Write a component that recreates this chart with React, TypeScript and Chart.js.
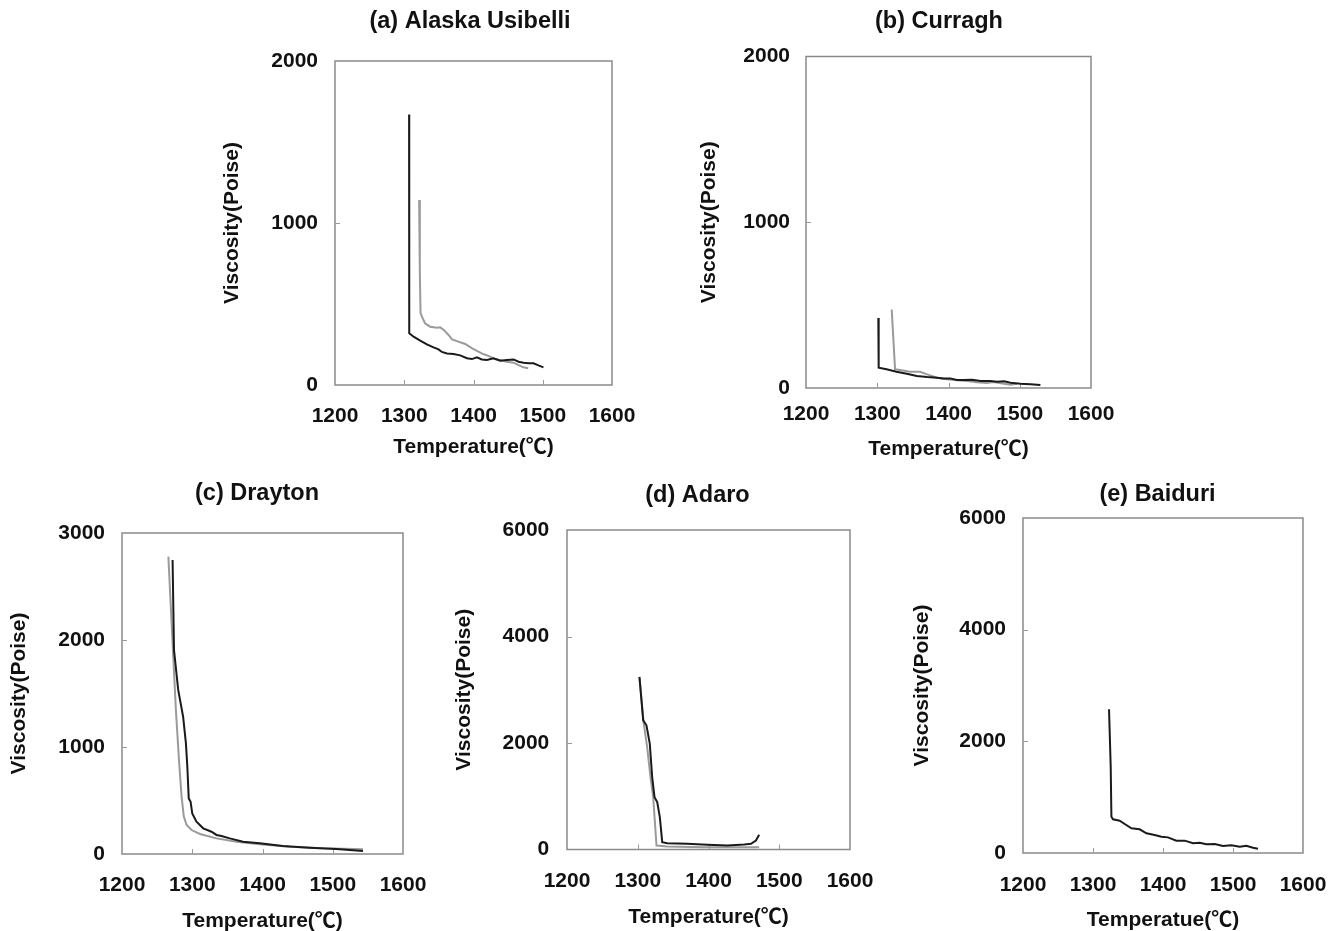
import React, { useEffect, useRef } from "react";
import { Chart, registerables } from "chart.js";

Chart.register(...registerables);

const FONT = "'Liberation Sans', Arial, 'Noto Sans CJK KR', sans-serif";

// ---- tick labels ----
const X_TICKS = [1200, 1300, 1400, 1500, 1600];
const Y_TICKS_2000 = [0, 1000, 2000];
const Y_TICKS_3000 = [0, 1000, 2000, 3000];
const Y_TICKS_6000 = [0, 2000, 4000, 6000];

// ---- (a) Alaska Usibelli ----
const A_BLACK_T = [1307, 1307.2, 1313.5, 1323, 1332.7, 1342.3, 1349.5, 1354.4, 1361.6, 1371.2, 1380.8, 1390.5, 1397.7, 1404.9, 1412.1, 1419.3, 1428.9, 1438.5, 1448.2, 1457.8, 1465, 1472.2, 1479.4, 1486.6, 1493.8, 1501];
const A_BLACK_V = [1670, 319, 298, 274, 251, 232, 220, 204, 195, 191, 183, 165, 160, 171, 158, 154, 165, 150, 154, 158, 144, 138, 134, 134, 121, 109];
const A_GRAY_T = [1321.5, 1322.5, 1323.5, 1325.5, 1330, 1337.5, 1347, 1352, 1357, 1364, 1369, 1378, 1388, 1398, 1405, 1414, 1424, 1431, 1438, 1448, 1458, 1465, 1472, 1479];
const A_GRAY_V = [1142, 700, 445, 422, 381, 360, 354, 356, 340, 309, 282, 268, 253, 226, 210, 191, 175, 160, 154, 144, 138, 123, 109, 103];

// ---- (b) Curragh ----
const B_BLACK_T = [1301.5, 1302, 1313, 1327, 1341.5, 1355.5, 1370, 1384, 1393, 1402.5, 1412, 1421, 1433, 1445, 1459, 1468, 1478, 1487, 1501, 1515, 1529];
const B_BLACK_V = [423, 122, 113, 98, 86, 72, 66, 62, 58, 58, 48, 48, 50, 42, 42, 38, 40, 32, 26, 22, 18];
const B_GRAY_T = [1320.3, 1325, 1332, 1346, 1360, 1370, 1384, 1398, 1412, 1426, 1440, 1454, 1463, 1478, 1487, 1496];
const B_GRAY_V = [474, 113, 108, 98, 98, 82, 62, 52, 46, 42, 34, 30, 36, 26, 20, 26];

// ---- (c) Drayton ----
const C_BLACK_T = [1272, 1274, 1280, 1287, 1291, 1293, 1295, 1297.6, 1300, 1306, 1315.6, 1327.4, 1334.5, 1341.6, 1353.4, 1372.3, 1396, 1429, 1467, 1505, 1543];
const C_BLACK_V = [2748, 1907, 1533, 1283, 1034, 816, 520, 489, 380, 302, 240, 208, 178, 168, 146, 115, 100, 75, 59, 47, 28];
const C_GRAY_T = [1266, 1269, 1273, 1276.7, 1281.4, 1284.8, 1288, 1292, 1299, 1311, 1334.5, 1363, 1396, 1438.6, 1486, 1543];
const C_GRAY_V = [2779, 2374, 1844, 1346, 848, 536, 349, 271, 224, 187, 146, 115, 90, 68, 53, 44];

// ---- (d) Adaro ----
const D_BLACK_T = [1302.4, 1307.7, 1312.3, 1317, 1320.4, 1323.7, 1327.5, 1331.2, 1334.6, 1341.7, 1370, 1398.4, 1426.8, 1450.4, 1460, 1467, 1471.6];
const D_BLACK_V = [3241, 2426, 2332, 1987, 1360, 984, 890, 608, 138, 119, 107, 88, 75, 94, 107, 169, 276];
const D_GRAY_T = [1302.4, 1308.5, 1313.3, 1318, 1321.8, 1326.5, 1341.7, 1393.6, 1431.5, 1471.6];
const D_GRAY_V = [3229, 2364, 1924, 1360, 984, 75, 56, 44, 44, 44];

// ---- (e) Baiduri ----
const E_BLACK_T = [1322.9, 1325.3, 1326.3, 1328.6, 1338.1, 1345.3, 1354.9, 1366.7, 1376.3, 1388.1, 1397.7, 1407.1, 1419.1, 1431, 1442.9, 1452.4, 1462, 1473.9, 1485.7, 1497.7, 1509.6, 1519.1, 1528.6, 1535.7];
const E_BLACK_V = [2574, 1546, 650, 603, 579, 519, 442, 424, 352, 322, 292, 280, 221, 221, 174, 185, 156, 161, 125, 138, 113, 131, 95, 77];

const BLACK = "#1a1a1a";
const GRAY = "#9a9a9a";

const TITLE_SIZE = 23.5;
const TICK_SIZE = 21;
const AXIS_TITLE_SIZE = 21;
const LH = 1.2;

type Geo = {
  l: number; t: number; r: number; b: number;
  titleX: number; titleY: number; yTitleX: number; xTitleY: number;
  yTickRight: number; xTickY: number;
};

type Series = { t: number[]; v: number[]; color: string; width: number; label: string };

type PanelCfg = {
  title: string;
  xTitle: string;
  yMax: number;
  yTicks: number[];
  series: Series[];
  geo: Geo;
};

const PANELS: PanelCfg[] = [
  {
    title: "(a) Alaska Usibelli", xTitle: "Temperature(℃)", yMax: 2000, yTicks: Y_TICKS_2000,
    series: [
      { t: A_BLACK_T, v: A_BLACK_V, color: BLACK, width: 2, label: "black" },
      { t: A_GRAY_T, v: A_GRAY_V, color: GRAY, width: 2, label: "gray" },
    ],
    geo: { l: 335, t: 61, r: 612, b: 385, titleX: 470, titleY: 22, yTitleX: 232, xTitleY: 447, yTickRight: 318, xTickY: 416 },
  },
  {
    title: "(b) Curragh", xTitle: "Temperature(℃)", yMax: 2000, yTicks: Y_TICKS_2000,
    series: [
      { t: B_BLACK_T, v: B_BLACK_V, color: BLACK, width: 2, label: "black" },
      { t: B_GRAY_T, v: B_GRAY_V, color: GRAY, width: 2, label: "gray" },
    ],
    geo: { l: 806, t: 56, r: 1091, b: 387, titleX: 939, titleY: 21.5, yTitleX: 709, xTitleY: 448, yTickRight: 790, xTickY: 413 },
  },
  {
    title: "(c) Drayton", xTitle: "Temperature(℃)", yMax: 3000, yTicks: Y_TICKS_3000,
    series: [
      { t: C_BLACK_T, v: C_BLACK_V, color: BLACK, width: 2, label: "black" },
      { t: C_GRAY_T, v: C_GRAY_V, color: GRAY, width: 2, label: "gray" },
    ],
    geo: { l: 122, t: 533, r: 403, b: 854, titleX: 257, titleY: 494, yTitleX: 19, xTitleY: 921, yTickRight: 105, xTickY: 885.5 },
  },
  {
    title: "(d) Adaro", xTitle: "Temperature(℃)", yMax: 6000, yTicks: Y_TICKS_6000,
    series: [
      { t: D_BLACK_T, v: D_BLACK_V, color: BLACK, width: 2, label: "black" },
      { t: D_GRAY_T, v: D_GRAY_V, color: GRAY, width: 2, label: "gray" },
    ],
    geo: { l: 567, t: 530, r: 850, b: 849, titleX: 697.5, titleY: 496, yTitleX: 464, xTitleY: 916.5, yTickRight: 549.3, xTickY: 881 },
  },
  {
    title: "(e) Baiduri", xTitle: "Temperatue(℃)", yMax: 6000, yTicks: Y_TICKS_6000,
    series: [
      { t: E_BLACK_T, v: E_BLACK_V, color: BLACK, width: 2, label: "black" },
    ],
    geo: { l: 1023, t: 518, r: 1303, b: 853, titleX: 1157.5, titleY: 495, yTitleX: 922, xTitleY: 920, yTickRight: 1006, xTickY: 885.5 },
  },
];

const framePlugin = {
  id: "frameBox",
  beforeDatasetsDraw(chart: any) {
    const { ctx, chartArea: a, scales } = chart;
    ctx.save();
    ctx.strokeStyle = "#8a8a8a";
    ctx.lineWidth = 1.5;
    ctx.strokeRect(a.left, a.top, a.right - a.left, a.bottom - a.top);
    ctx.lineWidth = 1;
    ctx.strokeStyle = "#9a9a9a";
    const xs = scales.x;
    xs.ticks.forEach((tk: any) => {
      if (tk.value > xs.min && tk.value < xs.max) {
        const px = Math.round(xs.getPixelForValue(tk.value)) + 0.5;
        ctx.beginPath();
        ctx.moveTo(px, a.bottom);
        ctx.lineTo(px, a.bottom - 5);
        ctx.stroke();
      }
    });
    const ys = scales.y;
    ys.ticks.forEach((tk: any) => {
      if (tk.value > ys.min && tk.value < ys.max) {
        const py = Math.round(ys.getPixelForValue(tk.value)) + 0.5;
        ctx.beginPath();
        ctx.moveTo(a.left, py);
        ctx.lineTo(a.left + 5, py);
        ctx.stroke();
      }
    });
    ctx.restore();
  },
};

function Panel({ cfg }: { cfg: PanelCfg }) {
  const ref = useRef<HTMLCanvasElement>(null);
  const g = cfg.geo;
  const left = g.yTitleX - 20;
  const top = g.titleY - 20;
  const right = 2 * g.titleX - left;
  const bottom = g.xTitleY + 20;
  const W = Math.round(right - left);
  const H = Math.round(bottom - top);

  useEffect(() => {
    if (!ref.current) return;
    const tickFont = { family: FONT, size: TICK_SIZE, weight: "bold" as const, lineHeight: LH };
    const axisFont = { family: FONT, size: AXIS_TITLE_SIZE, weight: "bold" as const, lineHeight: LH };
    const titleHalf = (TITLE_SIZE * LH) / 2;
    const tickHalf = (TICK_SIZE * LH) / 2;
    const axisHalf = (AXIS_TITLE_SIZE * LH) / 2;
    const chart = new Chart(ref.current, {
      type: "line",
      data: {
        datasets: cfg.series.map((s) => ({
          label: s.label,
          data: s.t.map((x, i) => ({ x, y: s.v[i] })),
          borderColor: s.color,
          backgroundColor: s.color,
          borderWidth: s.width,
          pointRadius: 0,
          tension: 0,
          fill: false,
        })),
      },
      options: {
        responsive: false,
        animation: false,
        devicePixelRatio: 1,
        layout: { padding: 0 },
        plugins: {
          legend: { display: false },
          tooltip: { enabled: false },
          title: {
            display: true,
            text: cfg.title,
            color: "#111",
            font: { family: FONT, size: TITLE_SIZE, weight: "bold", lineHeight: LH },
            padding: { top: 20 - titleHalf, bottom: g.t - g.titleY - titleHalf },
          },
        },
        scales: {
          x: {
            type: "linear",
            min: 1200,
            max: 1600,
            afterBuildTicks: (s: any) => { s.ticks = X_TICKS.map((v) => ({ value: v })); },
            afterFit: (s: any) => { s.height = bottom - g.b; },
            grid: { display: false, drawTicks: false },
            border: { display: false },
            ticks: {
              font: tickFont, color: "#111", padding: g.xTickY - g.b - tickHalf,
              maxRotation: 0, autoSkip: false, callback: (v: any) => String(v),
            },
            title: {
              display: true, text: cfg.xTitle, color: "#111", font: axisFont,
              padding: { top: 0, bottom: 20 - axisHalf },
            },
          },
          y: {
            type: "linear",
            position: "left",
            min: 0,
            max: cfg.yMax,
            afterBuildTicks: (s: any) => { s.ticks = cfg.yTicks.map((v) => ({ value: v })); },
            afterFit: (s: any) => { s.width = g.l - left; },
            grid: { display: false, drawTicks: false },
            border: { display: false },
            ticks: {
              font: tickFont, color: "#111", padding: g.l - g.yTickRight,
              autoSkip: false, callback: (v: any) => String(v),
            },
            title: {
              display: true, text: "Viscosity(Poise)", color: "#111", font: axisFont,
              padding: { top: 20 - axisHalf, bottom: 0 },
            },
          },
          yr: {
            type: "linear",
            position: "right",
            min: 0,
            max: 1,
            display: true,
            ticks: { display: false },
            grid: { display: false, drawTicks: false },
            border: { display: false },
            afterFit: (s: any) => { s.width = right - g.r; },
          },
        },
      } as any,
      plugins: [framePlugin],
    });
    return () => chart.destroy();
  }, []);

  return (
    <div style={{ position: "absolute", left, top, width: W, height: H }}>
      <canvas ref={ref} width={W} height={H} style={{ width: W, height: H, display: "block" }} />
    </div>
  );
}

export default function App() {
  return (
    <div
      style={{
        position: "absolute", left: 0, top: 0, width: 1340, height: 931,
        overflow: "hidden", background: "#ffffff",
      }}
    >
      {PANELS.map((p, i) => (
        <Panel key={i} cfg={p} />
      ))}
    </div>
  );
}
